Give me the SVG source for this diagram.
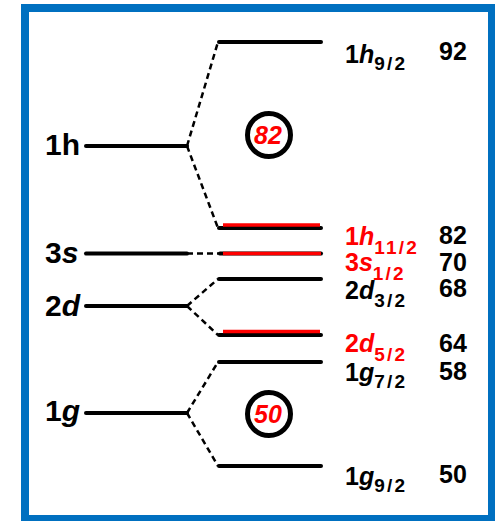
<svg xmlns="http://www.w3.org/2000/svg" width="495" height="521" viewBox="0 0 495 521">
  <style>
    .frame { fill: #ffffff; stroke: #0070C0; stroke-width: 8; }
    .lvl { stroke: #000000; stroke-width: 4; stroke-linecap: round; fill: none; }
    .hl { stroke: #FF0000; stroke-width: 3.5; fill: none; }
    .dash { stroke: #000000; stroke-width: 2.5; stroke-dasharray: 6 4; fill: none; }
    .ring { fill: #ffffff; stroke: #000000; stroke-width: 5; }
    text { font-family: "Liberation Sans", Arial, sans-serif; font-weight: bold; fill: #000000; }
    .big { font-size: 30px; }
    .lab { font-size: 25px; }
    .num { font-size: 25px; }
    .sub { font-size: 19px; letter-spacing: 2.2px; font-style: normal; }
    .it { font-style: italic; }
    .red { fill: #FF0000; }
    .magic { font-size: 25px; font-style: italic; fill: #FF0000; text-anchor: middle; }
  </style>

  <!-- outer frame -->
  <rect class="frame" x="25" y="8" width="467" height="511"/>

  <!-- splitting connectors (dashed) -->
  <g id="connectors">
    <path class="dash" d="M187,146 L218,42"/>
    <path class="dash" d="M187,146 L218,228"/>
    <path class="dash" d="M187,253.5 L220,253.5"/>
    <path class="dash" d="M187,306 L218,279"/>
    <path class="dash" d="M187,306 L218,335"/>
    <path class="dash" d="M187,413 L218,362"/>
    <path class="dash" d="M187,413 L218,466"/>
  </g>

  <!-- unsplit levels -->
  <g id="lvl-1h">
    <line class="lvl" x1="86" y1="146" x2="187" y2="146"/>
    <text class="big" x="45" y="155">1h</text>
  </g>
  <g id="lvl-3s">
    <line class="lvl" x1="86" y1="253.5" x2="187" y2="253.5"/>
    <text class="big" x="45" y="263">3<tspan class="it">s</tspan></text>
  </g>
  <g id="lvl-2d">
    <line class="lvl" x1="86" y1="306" x2="187" y2="306"/>
    <text class="big" x="45" y="316">2<tspan class="it">d</tspan></text>
  </g>
  <g id="lvl-1g">
    <line class="lvl" x1="86" y1="413" x2="187" y2="413"/>
    <text class="big" x="45" y="421">1<tspan class="it">g</tspan></text>
  </g>

  <!-- split levels -->
  <g id="lvl-1h92">
    <line class="lvl" x1="219" y1="42" x2="321" y2="42"/>
    <text class="lab" x="345" y="63">1<tspan class="it">h</tspan><tspan class="sub" y="70">9/2</tspan></text>
    <text class="num" x="439" y="60">92</text>
  </g>
  <g id="lvl-1h112">
    <line class="lvl" x1="219" y1="228" x2="321" y2="228"/>
    <line class="hl" x1="223" y1="225" x2="320" y2="225"/>
    <text class="lab red" x="345" y="245">1<tspan class="it">h</tspan><tspan class="sub" y="254">11/2</tspan></text>
    <text class="num" x="439" y="244">82</text>
  </g>
  <g id="lvl-3s12">
    <line class="lvl" x1="220" y1="253.5" x2="321" y2="253.5"/>
    <line class="hl" x1="223" y1="253.5" x2="321" y2="253.5"/>
    <text class="lab red" x="345" y="271">3<tspan class="it">s</tspan><tspan class="sub" y="280">1/2</tspan></text>
    <text class="num" x="439" y="271">70</text>
  </g>
  <g id="lvl-2d32">
    <line class="lvl" x1="219" y1="279" x2="321" y2="279"/>
    <text class="lab" x="345" y="299">2<tspan class="it">d</tspan><tspan class="sub" y="307">3/2</tspan></text>
    <text class="num" x="439" y="297">68</text>
  </g>
  <g id="lvl-2d52">
    <line class="lvl" x1="219" y1="335" x2="321" y2="335"/>
    <line class="hl" x1="223" y1="331.5" x2="320" y2="331.5"/>
    <text class="lab red" x="345" y="352">2<tspan class="it">d</tspan><tspan class="sub" y="361">5/2</tspan></text>
    <text class="num" x="439" y="352">64</text>
  </g>
  <g id="lvl-1g72">
    <line class="lvl" x1="219" y1="362" x2="321" y2="362"/>
    <text class="lab" x="345" y="381">1<tspan class="it">g</tspan><tspan class="sub" y="388">7/2</tspan></text>
    <text class="num" x="439" y="380">58</text>
  </g>
  <g id="lvl-1g92">
    <line class="lvl" x1="219" y1="466" x2="321" y2="466"/>
    <text class="lab" x="345" y="485">1<tspan class="it">g</tspan><tspan class="sub" y="492">9/2</tspan></text>
    <text class="num" x="439" y="483">50</text>
  </g>

  <!-- magic-number shell gaps -->
  <g id="gap-82">
    <circle class="ring" cx="269" cy="135" r="21.5"/>
    <text class="magic" x="268" y="144">82</text>
  </g>
  <g id="gap-50">
    <circle class="ring" cx="269" cy="414" r="21.5"/>
    <text class="magic" x="268" y="423">50</text>
  </g>
</svg>
